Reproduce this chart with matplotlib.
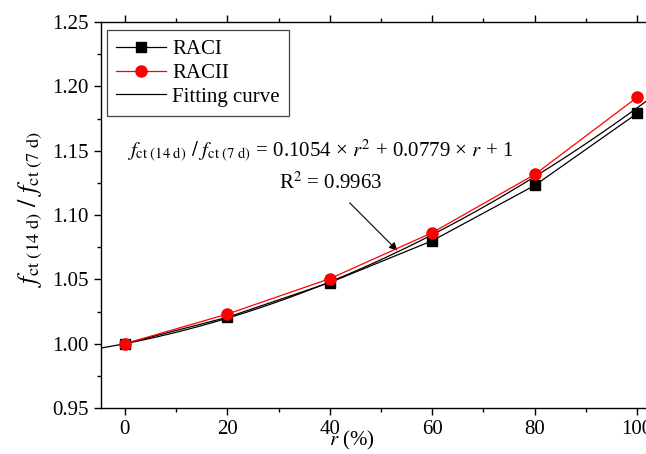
"""Ratio of 14 d to 7 d tensile strength against replacement ratio r."""
import numpy as np
import matplotlib
matplotlib.use("Agg")
import matplotlib.pyplot as plt
from matplotlib.ticker import MultipleLocator

plt.rcParams["font.family"] = ["Liberation Serif", "DejaVu Serif"]
plt.rcParams["mathtext.fontset"] = "stix"

# Data
r_pct = [0, 20, 40, 60, 80, 100]
raci = [1.000, 1.0205, 1.0475, 1.080, 1.123, 1.179]
racii = [1.000, 1.023, 1.0505, 1.0863, 1.1315, 1.1915]
fit_a, fit_b, fit_c = 0.1054, 0.0779, 1.0
fit_label = "Fitting curve"
r2_text = "R$^2$ = 0.9963"

fig = plt.figure(figsize=(6.46, 4.54), dpi=100)
ax = fig.add_axes([0.156, 0.1013, 0.87, 0.8502])

# fitting curve over the whole x range (r as fraction)
r_fit = np.linspace(-0.05, 1.08, 200)
ax.plot(r_fit * 100, fit_a * r_fit**2 + fit_b * r_fit + fit_c,
        color="black", lw=0.9, label=fit_label, zorder=2)
ax.plot(r_pct, raci, color="black", lw=0.9, marker="s", ms=7,
        label="RACI", zorder=3)
ax.plot(r_pct, racii, color="red", lw=0.9, marker="o", ms=8,
        label="RACII", zorder=4)

ax.set_xlim(-4.7, 105)
ax.set_ylim(0.95, 1.25)
ax.xaxis.set_major_locator(MultipleLocator(20))
ax.xaxis.set_minor_locator(MultipleLocator(10))
ax.yaxis.set_major_locator(MultipleLocator(0.05))
ax.yaxis.set_minor_locator(MultipleLocator(0.025))
ax.yaxis.set_major_formatter(matplotlib.ticker.FormatStrFormatter("%.2f"))
ax.tick_params(which="both", direction="out", top=True, right=False,
               width=1.0, labelsize=15)
ax.tick_params(which="major", length=5)
ax.tick_params(which="minor", length=3)
for s in ax.spines.values():
    s.set_linewidth(1.0)

ax.set_xlabel("$r$ (%)", fontsize=15)
ax.xaxis.set_label_coords(0.447, -0.055)
ax.set_ylabel(r"$f_{\rm ct\ (14\ d)}\ /\ f_{\rm ct\ (7\ d)}$", fontsize=19)
ax.yaxis.set_label_coords(-0.1, 0.515)

ax.text(38.2, 1.15,
        r"$f_{\rm ct\ (14\ d)}\ /\ f_{\rm ct\ (7\ d)}$ = 0.1054 × $r^2$ + 0.0779 × $r$ + 1",
        fontsize=15, ha="center", va="center")
ax.annotate(r2_text, xy=(53.2, 1.0723), xytext=(40.1, 1.1246),
            fontsize=15, ha="center", va="center",
            arrowprops=dict(arrowstyle="-|>", color="black", lw=0.8,
                            mutation_scale=12, shrinkA=6, shrinkB=0))

handles, labels = ax.get_legend_handles_labels()
order = [1, 2, 0]
leg = ax.legend([handles[i] for i in order], [labels[i] for i in order],
                loc="upper left", bbox_to_anchor=(0.0107, 0.979),
                borderaxespad=0, fontsize=15, fancybox=False,
                handlelength=2.4, handletextpad=0.3, labelspacing=0.2,
                borderpad=0.45, framealpha=1)
leg.get_frame().set_edgecolor("#444444")
leg.get_frame().set_linewidth(0.9)

fig.savefig("out.png", dpi=100)
